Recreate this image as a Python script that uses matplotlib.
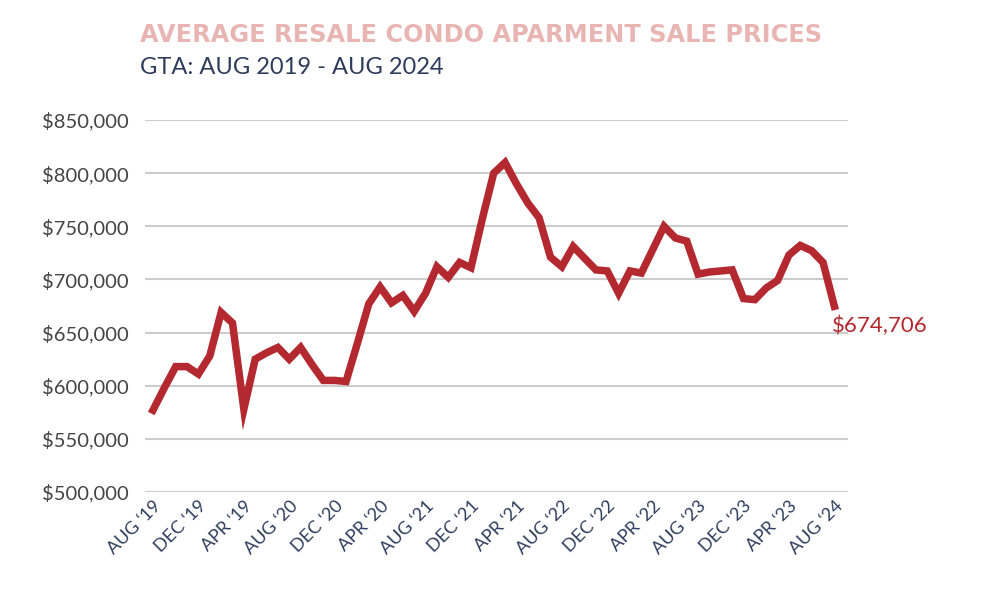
import numpy as np
import matplotlib
matplotlib.use("Agg")
import matplotlib.pyplot as plt
from matplotlib.ticker import FuncFormatter

# monthly average price, Aug 2019 .. Aug 2024
prices = [577000, 598000, 618000, 618000, 611000, 628000, 669000, 659000,
          578000, 625000, 631000, 636000, 625000, 636000, 620000, 605000,
          605000, 604000, 640000, 677000, 693000, 678000, 685000, 670000,
          687000, 712000, 702000, 716000, 711000, 757000, 800000, 810000,
          790000, 772000, 758000, 721000, 712000, 731000, 720000, 709000,
          708000, 687000, 708000, 706000, 728000, 750000, 739000, 736000,
          705000, 707000, 708000, 709000, 682000, 681000, 692000, 699000,
          723000, 732000, 727000, 716000, 674706]
tick_labels = ["AUG \u201819", "DEC \u201819", "APR \u201819", "AUG \u201820",
               "DEC \u201820", "APR \u201820", "AUG \u201821", "DEC \u201821",
               "APR \u201821", "AUG \u201822", "DEC \u201822", "APR \u201822",
               "AUG \u201823", "DEC \u201823", "APR \u201823", "AUG \u201824"]
y_ticks = [500000, 550000, 600000, 650000, 700000, 750000, 800000, 850000]

plt.rcParams['font.family'] = ['Lato', 'DejaVu Sans']

red = "#b3292f"
navy = "#2e3d5c"

fig = plt.figure(figsize=(9.84, 5.93), dpi=100)
ax = fig.add_axes([0.1474, 0.1703, 0.7144, 0.6273])

x = np.arange(len(prices))
ax.plot(x, prices, color=red, linewidth=5.4, solid_joinstyle="miter", zorder=3)

ax.set_xlim(-0.7, 61.2)
ax.set_ylim(500000, 850000)
ax.set_yticks(y_ticks)
ax.yaxis.set_major_formatter(FuncFormatter(lambda v, p: "${:,.0f}".format(v)))
ax.set_xticks(x[::4])
ax.set_xticklabels(tick_labels, rotation=45, ha="right", rotation_mode="anchor")
ax.grid(axis="y", color="#cccccc", linewidth=1.5)
ax.set_axisbelow(True)
for s in ax.spines.values():
    s.set_visible(False)
ax.tick_params(axis="both", length=0)
ax.tick_params(axis="y", labelsize=14.5, labelcolor="#444444", pad=12)
ax.tick_params(axis="x", labelsize=13, labelcolor=navy, pad=4)

ax.annotate("${:,.0f}".format(prices[-1]), (x[-1], prices[-1]),
            xytext=(-2, -7), textcoords="offset points", va="top", ha="left",
            color=red, fontsize=16)

fig.text(0.142, 0.929, "AVERAGE RESALE CONDO APARMENT SALE PRICES",
         fontsize=17.3, fontweight="bold", color="#e9b5b3", va="baseline",
         family=["DejaVu Sans"])
fig.text(0.142, 0.875, "GTA: AUG 2019 - AUG 2024", fontsize=17,
         color=navy, va="baseline")

fig.savefig("out.png", dpi=100)
